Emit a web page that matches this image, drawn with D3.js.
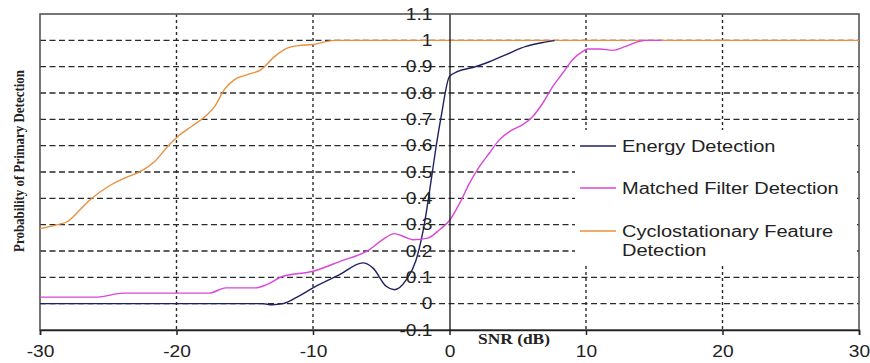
<!DOCTYPE html>
<html>
<head>
<meta charset="utf-8">
<script src="https://cdn.jsdelivr.net/npm/d3@7"></script>
<style>
  body { margin: 0; background: #fff; }
  svg { display: block; }
</style>
</head>
<body>
<div id="chart"></div>
<script>
// values
var snrEnergy = [-30, -13.7, -13, -12.2, -11, -10, -8.06, -6.35, -5.6, -4.64, -4.03, -3.17, -2.44, -1.83, -1.34, -0.98, -0.61, 0, 0.61, 1.71, 2.69, 4.15, 5.6, 6.84, 7.7];
var pEnergy = [0, 0, -0.004, 0, 0.03, 0.06, 0.11, 0.155, 0.135, 0.066, 0.053, 0.09, 0.167, 0.306, 0.47, 0.597, 0.711, 0.863, 0.882, 0.897, 0.914, 0.946, 0.977, 0.992, 0.999];

var snrMatched = [-30, -25.8, -23.9, -17.6, -16.4, -14.2, -13.4, -12.2, -10, -8.06, -5.86, -4.9, -4.03, -3.42, -2.69, -1.59, -0.73, 0, 0.73, 1.47, 2.2, 2.93, 3.66, 4.64, 5.37, 6.1, 6.84, 7.57, 8.3, 9.03, 9.77, 10.1, 11.0, 11.97, 12.9, 13.9, 14.4, 15.5];
var pMatched = [0.025, 0.025, 0.04, 0.04, 0.06, 0.06, 0.072, 0.104, 0.123, 0.16, 0.205, 0.243, 0.266, 0.256, 0.243, 0.249, 0.281, 0.316, 0.38, 0.458, 0.521, 0.572, 0.623, 0.661, 0.68, 0.711, 0.762, 0.825, 0.876, 0.927, 0.958, 0.967, 0.967, 0.962, 0.977, 0.996, 1.0, 1.0];

var snrCyclo = [-30, -28.7, -27.95, -27.2, -26.2, -25, -23.8, -22.6, -21.6, -20.6, -19.9, -18.9, -17.9, -17.2, -16.5, -15.75, -14.8, -13.8, -12.8, -11.85, -11.1, -10, -9.15, -8.4, 30];
var pCyclo = [0.285, 0.30, 0.313, 0.35, 0.40, 0.445, 0.477, 0.503, 0.54, 0.60, 0.635, 0.673, 0.711, 0.749, 0.813, 0.851, 0.87, 0.889, 0.939, 0.971, 0.98, 0.984, 0.994, 1.0, 1.0];

var seriesNames = ["Energy Detection", "Matched Filter Detection", "Cyclostationary Feature|Detection"];
var xTicks = [-30, -20, -10, 0, 10, 20, 30];
var yTicks = [-0.1, 0, 0.1, 0.2, 0.3, 0.4, 0.5, 0.6, 0.7, 0.8, 0.9, 1, 1.1];
var xGrid = [-20, -10, 10, 20];
var yGrid = [0, 0.1, 0.2, 0.3, 0.4, 0.5, 0.6, 0.7, 0.8, 0.9, 1];

var width = 870,
    height = 363,
    plotLeft = 40, plotRight = 859, plotTop = 14, plotBottom = 330;

var svg = d3.select("#chart")
    .append("svg")
    .attr("width", width)
    .attr("height", height);

var x = d3.scaleLinear().domain([-30, 30]).range([plotLeft, plotRight]);
var y = d3.scaleLinear().domain([-0.1, 1.1]).range([plotBottom, plotTop]);

// grid
svg.append("g").selectAll("line")
    .data(yGrid)
    .enter().append("line")
    .attr("x1", plotLeft).attr("x2", plotRight)
    .attr("y1", function(d) { return y(d) }).attr("y2", function(d) { return y(d) })
    .attr("stroke", "#2a2a2a").attr("stroke-width", 1.4)
    .attr("stroke-dasharray", "6,3.5");

svg.append("g").selectAll("line")
    .data(xGrid)
    .enter().append("line")
    .attr("x1", function(d) { return x(d) }).attr("x2", function(d) { return x(d) })
    .attr("y1", plotTop).attr("y2", plotBottom)
    .attr("stroke", "#2a2a2a").attr("stroke-width", 1.4)
    .attr("stroke-dasharray", "3,3");

// frame
svg.append("rect")
    .attr("x", plotLeft).attr("y", plotTop)
    .attr("width", plotRight - plotLeft).attr("height", plotBottom - plotTop)
    .attr("fill", "none").attr("stroke", "#555").attr("stroke-width", 1.6);

function series(xs, ys) {
    return xs.map(function(d, i) { return [d, ys[i]] });
}

var line = d3.line()
    .x(function(d) { return x(d[0]) })
    .y(function(d) { return y(d[1]) })
    .curve(d3.curveMonotoneX);

var colours = ["#202064", "#d946d9", "#e8913c"];
var data = [series(snrEnergy, pEnergy), series(snrMatched, pMatched), series(snrCyclo, pCyclo)];

[2, 0, 1].forEach(function(i) {
    svg.append("path")
        .datum(data[i])
        .attr("d", line)
        .attr("fill", "none")
        .attr("stroke", colours[i])
        .attr("stroke-width", 1.4);
});

// y axis through zero
var yAxis = svg.append("g")
    .attr("transform", "translate(" + x(0) + ",0)")
    .call(d3.axisLeft(y).tickValues(yTicks).tickSize(0)
        .tickFormat(function(d) { return String(+d.toFixed(1)) }));
yAxis.select(".domain").attr("stroke", "#111").attr("stroke-width", 1.3);
yAxis.selectAll("text")
    .attr("x", null)
    .attr("transform", "translate(-17,0) scale(1.2,1)")
    .attr("fill", "#222")
    .style("font-family", "Liberation Sans, Arial, sans-serif")
    .style("font-size", "16px");

// x axis
var xAxis = svg.append("g")
    .attr("transform", "translate(0," + plotBottom + ")")
    .call(d3.axisBottom(x).tickValues(xTicks).tickSize(5).tickPadding(11)
        .tickFormat(function(d) { return String(d) }));
xAxis.select(".domain").attr("stroke", "#222").attr("stroke-width", 1.5);
xAxis.selectAll("line").attr("stroke", "#222").attr("stroke-width", 1.5);
xAxis.selectAll("text")
    .attr("transform", "scale(1.2,1)")
    .attr("fill", "#222")
    .style("font-family", "Liberation Sans, Arial, sans-serif")
    .style("font-size", "16px");

// axis titles
svg.append("text")
    .attr("transform", "translate(514,344) scale(1.2,1)")
    .attr("text-anchor", "middle")
    .style("font-family", "Liberation Serif, Times New Roman, serif")
    .style("font-weight", "bold")
    .style("font-size", "14.5px")
    .attr("fill", "#222")
    .text("SNR (dB)");

svg.append("text")
    .attr("transform", "translate(24,161) rotate(-90)")
    .attr("text-anchor", "middle")
    .attr("textLength", 182)
    .attr("lengthAdjust", "spacingAndGlyphs")
    .style("font-family", "Liberation Serif, Times New Roman, serif")
    .style("font-weight", "bold")
    .style("font-size", "15.5px")
    .attr("fill", "#222")
    .text("Probability of Primary Detection");

// legend
var legend = svg.append("g");
legend.append("rect")
    .attr("x", 575).attr("y", 130)
    .attr("width", 280).attr("height", 135)
    .attr("fill", "#fff");

var legendY = [146, 188, 231];
seriesNames.forEach(function(name, i) {
    legend.append("line")
        .attr("x1", 580).attr("x2", 616)
        .attr("y1", legendY[i]).attr("y2", legendY[i])
        .attr("stroke", colours[i]).attr("stroke-width", 1.4);
    name.split("|").forEach(function(part, j) {
        legend.append("text")
            .attr("transform", "translate(622," + (legendY[i] + 5.5 + j * 19) + ") scale(1.25,1)")
            .attr("fill", "#222")
            .style("font-family", "Liberation Sans, Arial, sans-serif")
            .style("font-size", "16px")
            .text(part);
    });
});
</script>
</body>
</html>
